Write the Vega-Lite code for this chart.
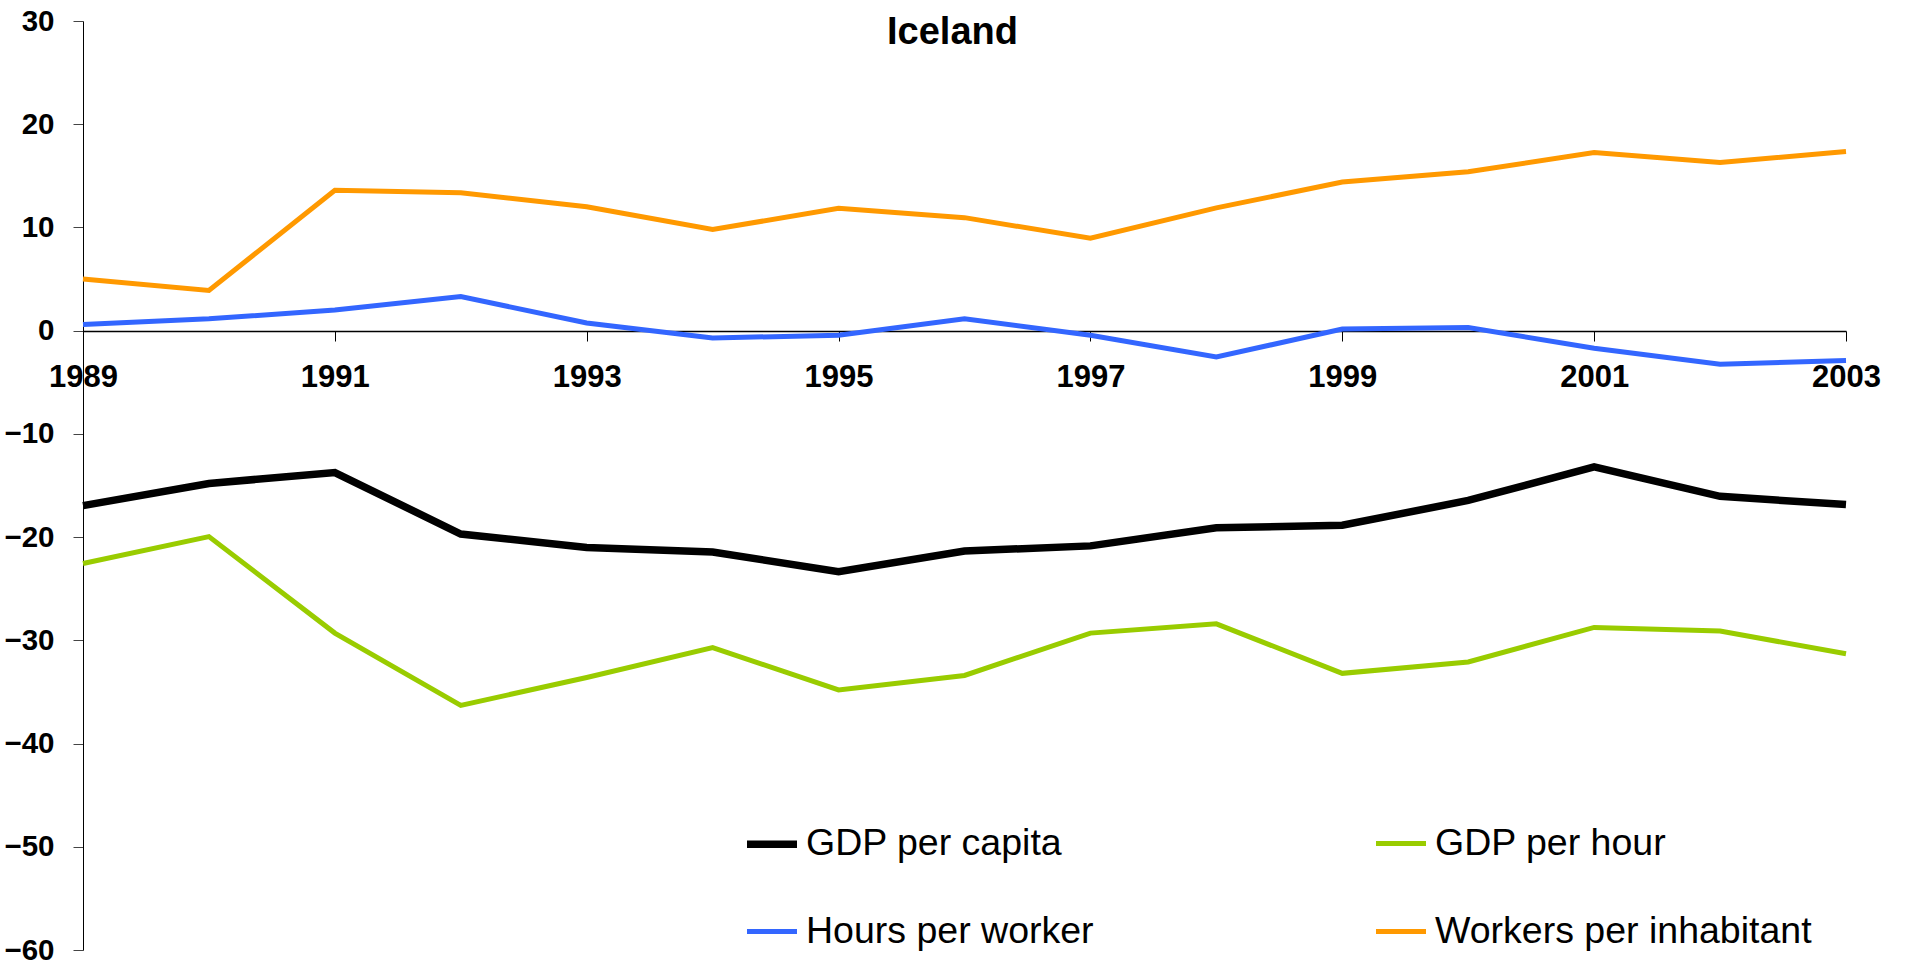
{
  "$schema": "https://vega.github.io/schema/vega-lite/v6.json",
  "width": 1763,
  "height": 929,
  "autosize": {"type": "none"},
  "padding": {"left": 83, "top": 21, "right": 62, "bottom": 15},
  "background": "white",
  "title": {"text": "Iceland", "fontSize": 38, "font": "Liberation Sans", "fontWeight": "bold", "anchor": "middle", "frame": "group", "offset": -22, "baseline": "alphabetic", "dx": -12, "dy": 53.5, "color": "black"},
  "config": {"view": {"stroke": null}, "font": "Liberation Sans"},
  "data": {"values": [
    {"year": 1989, "series": "GDP per capita", "value": -16.95},
    {"year": 1990, "series": "GDP per capita", "value": -14.8},
    {"year": 1991, "series": "GDP per capita", "value": -13.75},
    {"year": 1992, "series": "GDP per capita", "value": -19.7},
    {"year": 1993, "series": "GDP per capita", "value": -21.0},
    {"year": 1994, "series": "GDP per capita", "value": -21.45},
    {"year": 1995, "series": "GDP per capita", "value": -23.35},
    {"year": 1996, "series": "GDP per capita", "value": -21.35},
    {"year": 1997, "series": "GDP per capita", "value": -20.85},
    {"year": 1998, "series": "GDP per capita", "value": -19.1},
    {"year": 1999, "series": "GDP per capita", "value": -18.85},
    {"year": 2000, "series": "GDP per capita", "value": -16.45},
    {"year": 2001, "series": "GDP per capita", "value": -13.2},
    {"year": 2002, "series": "GDP per capita", "value": -16.05},
    {"year": 2003, "series": "GDP per capita", "value": -16.85},
    {"year": 1989, "series": "GDP per hour", "value": -22.55},
    {"year": 1990, "series": "GDP per hour", "value": -19.95},
    {"year": 1991, "series": "GDP per hour", "value": -29.3},
    {"year": 1992, "series": "GDP per hour", "value": -36.3},
    {"year": 1993, "series": "GDP per hour", "value": -33.6},
    {"year": 1994, "series": "GDP per hour", "value": -30.7},
    {"year": 1995, "series": "GDP per hour", "value": -34.8},
    {"year": 1996, "series": "GDP per hour", "value": -33.4},
    {"year": 1997, "series": "GDP per hour", "value": -29.3},
    {"year": 1998, "series": "GDP per hour", "value": -28.4},
    {"year": 1999, "series": "GDP per hour", "value": -33.2},
    {"year": 2000, "series": "GDP per hour", "value": -32.1},
    {"year": 2001, "series": "GDP per hour", "value": -28.75},
    {"year": 2002, "series": "GDP per hour", "value": -29.1},
    {"year": 2003, "series": "GDP per hour", "value": -31.3},
    {"year": 1989, "series": "Hours per worker", "value": 0.6},
    {"year": 1990, "series": "Hours per worker", "value": 1.15},
    {"year": 1991, "series": "Hours per worker", "value": 2.0},
    {"year": 1992, "series": "Hours per worker", "value": 3.3},
    {"year": 1993, "series": "Hours per worker", "value": 0.75},
    {"year": 1994, "series": "Hours per worker", "value": -0.7},
    {"year": 1995, "series": "Hours per worker", "value": -0.45},
    {"year": 1996, "series": "Hours per worker", "value": 1.15},
    {"year": 1997, "series": "Hours per worker", "value": -0.45},
    {"year": 1998, "series": "Hours per worker", "value": -2.55},
    {"year": 1999, "series": "Hours per worker", "value": 0.15},
    {"year": 2000, "series": "Hours per worker", "value": 0.3},
    {"year": 2001, "series": "Hours per worker", "value": -1.7},
    {"year": 2002, "series": "Hours per worker", "value": -3.25},
    {"year": 2003, "series": "Hours per worker", "value": -2.9},
    {"year": 1989, "series": "Workers per inhabitant", "value": 5.0},
    {"year": 1990, "series": "Workers per inhabitant", "value": 3.9},
    {"year": 1991, "series": "Workers per inhabitant", "value": 13.6},
    {"year": 1992, "series": "Workers per inhabitant", "value": 13.35},
    {"year": 1993, "series": "Workers per inhabitant", "value": 12.0},
    {"year": 1994, "series": "Workers per inhabitant", "value": 9.8},
    {"year": 1995, "series": "Workers per inhabitant", "value": 11.85},
    {"year": 1996, "series": "Workers per inhabitant", "value": 10.95},
    {"year": 1997, "series": "Workers per inhabitant", "value": 8.95},
    {"year": 1998, "series": "Workers per inhabitant", "value": 11.9},
    {"year": 1999, "series": "Workers per inhabitant", "value": 14.4},
    {"year": 2000, "series": "Workers per inhabitant", "value": 15.4},
    {"year": 2001, "series": "Workers per inhabitant", "value": 17.25},
    {"year": 2002, "series": "Workers per inhabitant", "value": 16.3},
    {"year": 2003, "series": "Workers per inhabitant", "value": 17.35}
  ]},
  "encoding": {
    "x": {
      "field": "year", "type": "quantitative",
      "scale": {"domain": [1989, 2003], "nice": false, "zero": false},
      "axis": {"title": null, "values": [1989, 1991, 1993, 1995, 1997, 1999, 2001, 2003], "format": "d", "offset": -619, "domainColor": "black", "domainWidth": 1.5, "tickColor": "black", "tickSize": 10, "tickWidth": 1, "labelFontSize": 31, "labelFontWeight": "bold", "labelColor": "black", "labelPadding": 21, "labelFlush": false, "labelOverlap": false, "grid": false}
    },
    "y": {
      "field": "value", "type": "quantitative",
      "scale": {"domain": [-60, 30], "nice": false},
      "axis": {"title": null, "values": [-60, -50, -40, -30, -20, -10, 0, 10, 20, 30], "domainColor": "black", "tickColor": "#444444", "tickSize": 10, "labelFontSize": 29.5, "labelFontWeight": "bold", "labelColor": "black", "labelPadding": 19, "labelFlush": false, "labelOverlap": false, "grid": false}
    },
    "color": {
      "field": "series", "type": "nominal",
      "scale": {"domain": ["GDP per capita", "GDP per hour", "Hours per worker", "Workers per inhabitant"], "range": ["#000000", "#99CC00", "#3366FF", "#FF9900"]},
      "legend": {"title": null, "orient": "none", "direction": "horizontal", "legendX": 660, "legendY": 794, "columns": 2, "gridAlign": "all", "symbolType": "stroke", "symbolSize": 2500, "labelFontSize": 37.5, "labelColor": "black", "labelLimit": 600, "labelOffset": 5, "rowPadding": 41, "columnPadding": 183}
    },
    "strokeWidth": {
      "field": "series", "type": "nominal",
      "scale": {"type": "ordinal", "domain": ["GDP per capita", "GDP per hour", "Hours per worker", "Workers per inhabitant"], "range": [7.5, 5, 5, 5]},
      "legend": {"title": null, "orient": "none", "direction": "horizontal", "legendX": 660, "legendY": 794, "columns": 2, "gridAlign": "all", "symbolType": "stroke", "symbolSize": 2500, "labelFontSize": 37.5, "labelColor": "black", "labelLimit": 600, "labelOffset": 5, "rowPadding": 41, "columnPadding": 183}
    }
  },
  "layer": [
    {
      "transform": [{"filter": "datum.series !== 'GDP per capita'"}],
      "mark": {"type": "line", "strokeWidth": 5}
    },
    {
      "transform": [{"filter": "datum.series === 'GDP per capita'"}],
      "mark": {"type": "line", "strokeWidth": 7.5}
    }
  ]
}
